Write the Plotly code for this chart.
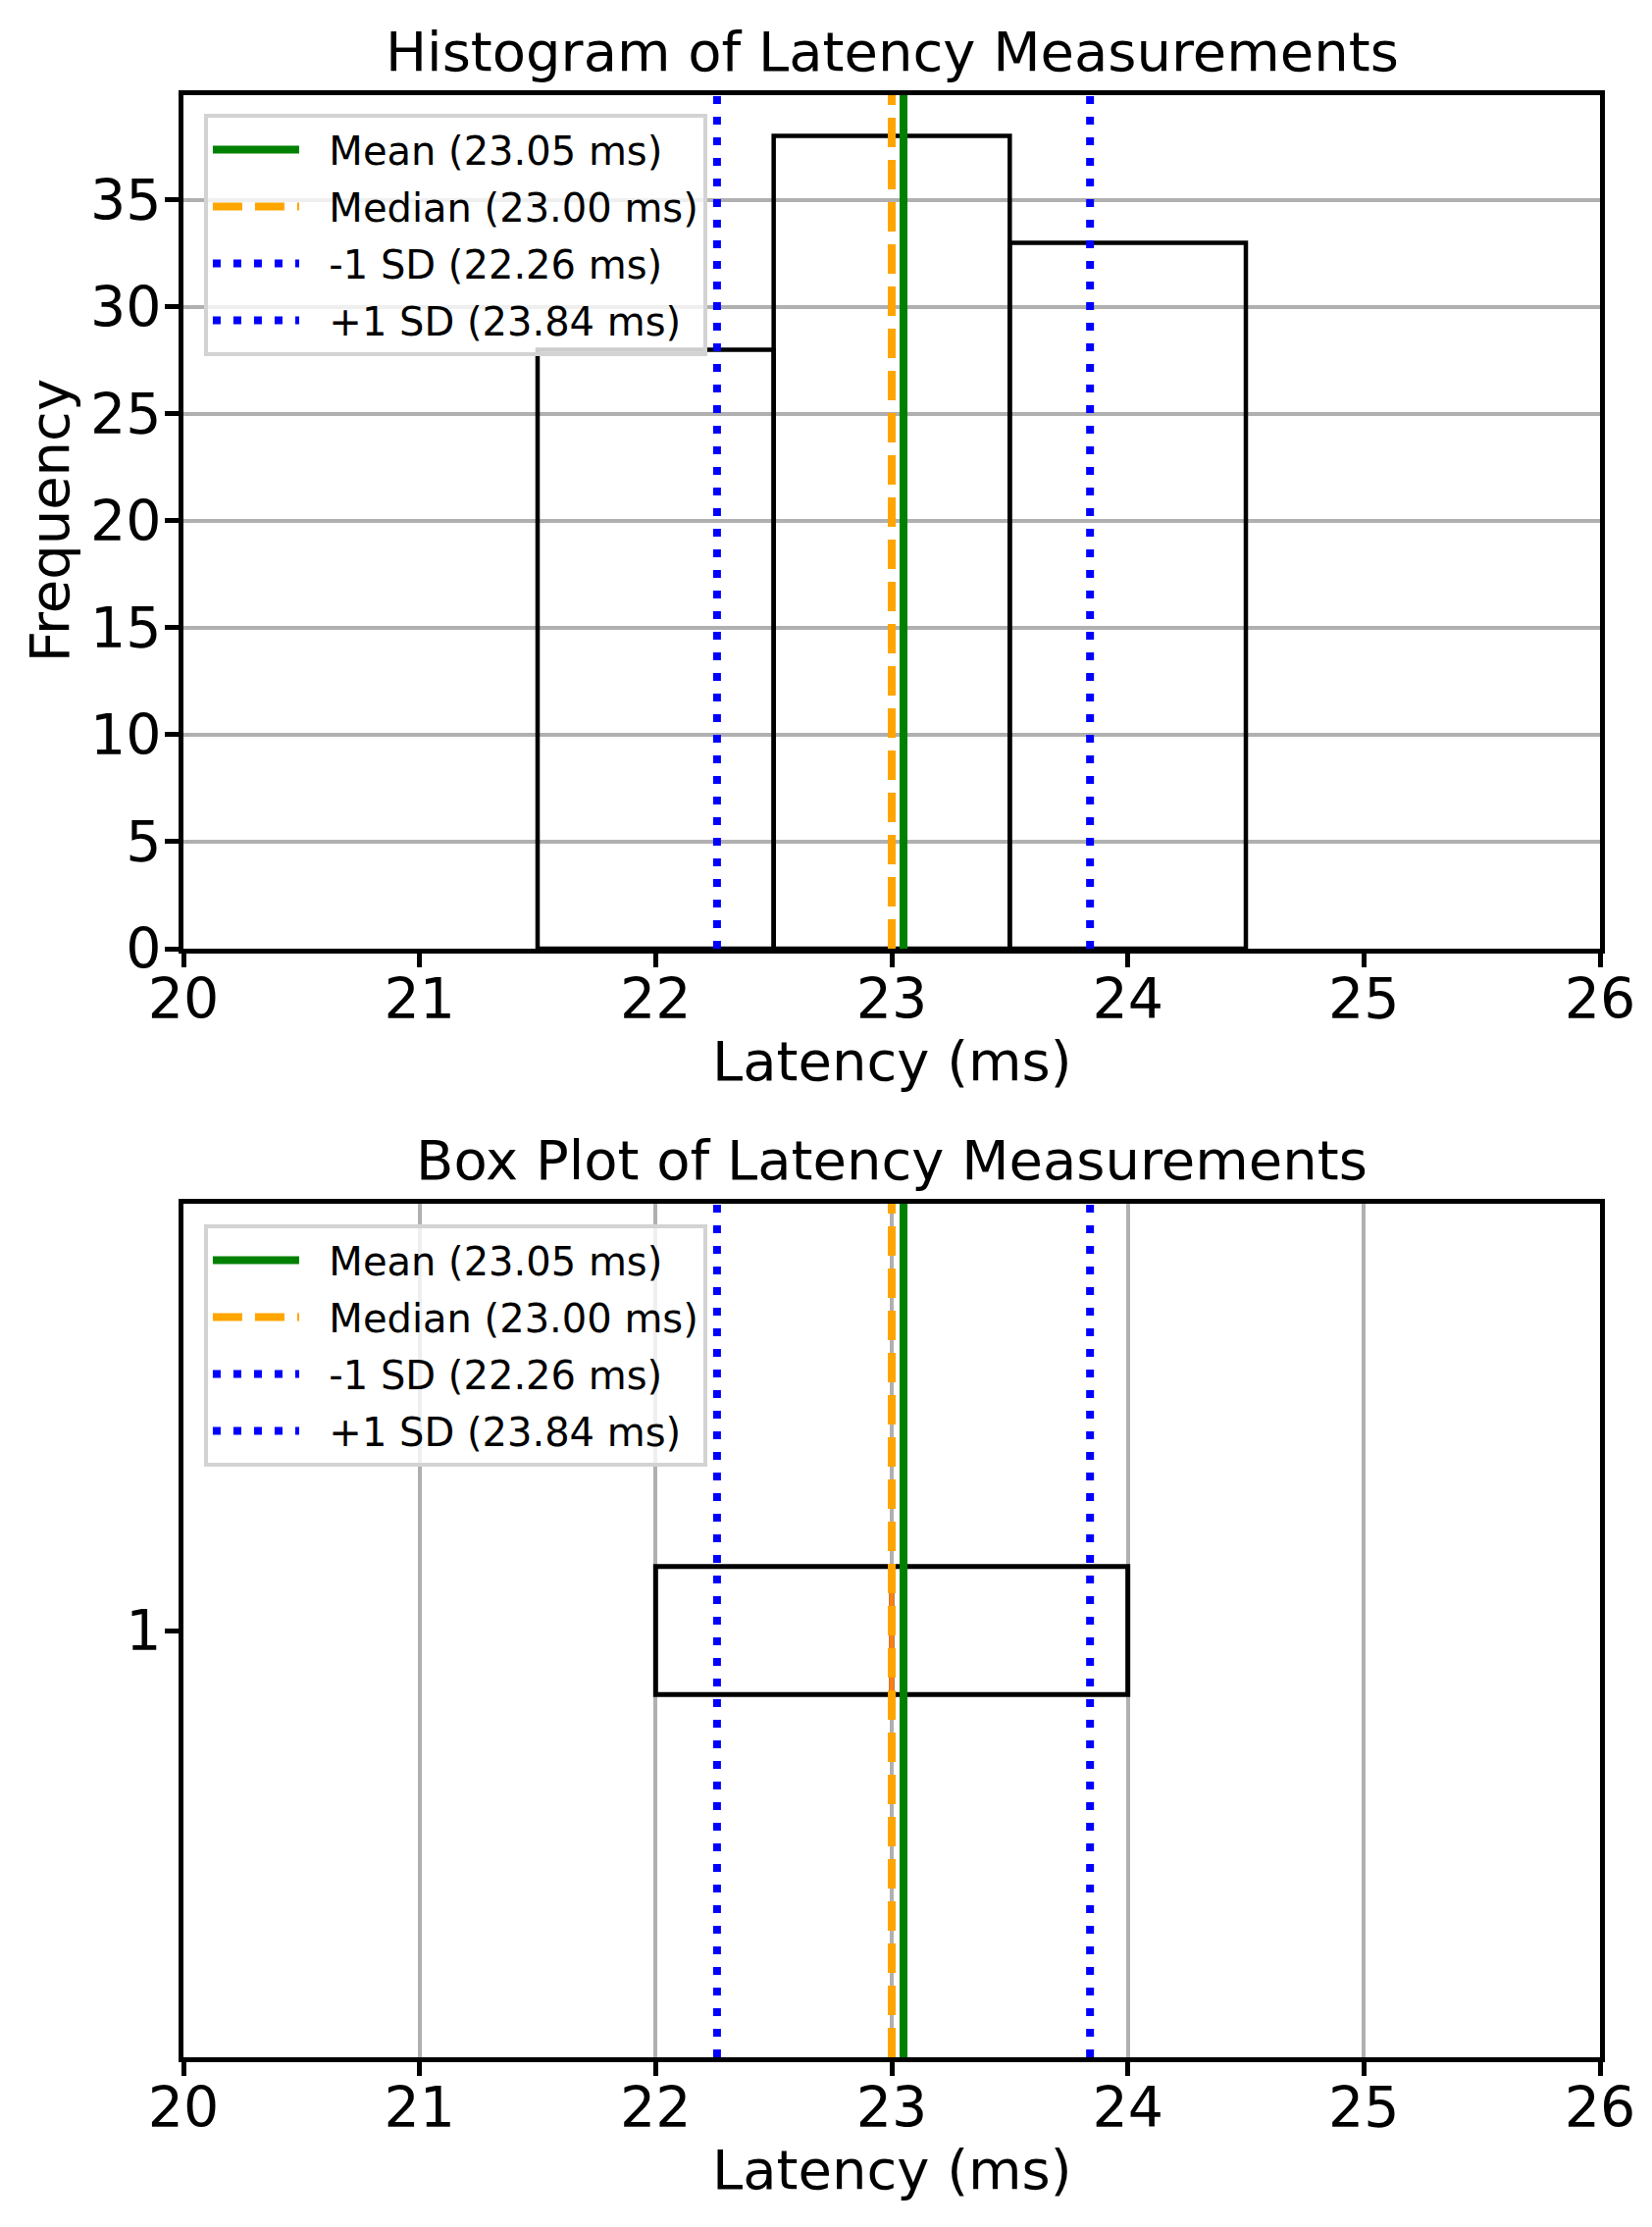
import plotly.graph_objects as go

# --- Data ---
latency_bins = [22, 23, 24]          # bin centres (ms), bins are 1 ms wide
bin_counts = [28, 38, 33]

mean_ms = 23.05
median_ms = 23.00
sd_low_ms = 22.26
sd_high_ms = 23.84

# box plot summary (horizontal box at position 1)
box_q1 = 22
box_median = 23
box_q3 = 24
box_low = 22
box_high = 24
box_pos = 1
box_width = 0.15

x_ticks = [20, 21, 22, 23, 24, 25, 26]
hist_y_ticks = [0, 5, 10, 15, 20, 25, 30, 35]

hist_y_range = [0, max(bin_counts) * 1.05]
box_y_range = [box_pos - 0.5, box_pos + 0.5]

FONT = "DejaVu Sans"
GRID = "#b0b0b0"
PAD = "\u00a0\u00a0"  # small gap between legend sample and text

# reference lines: (label, value, colour, dash)
ref_lines = [
    (f"Mean ({mean_ms:.2f} ms)", mean_ms, "green", "solid"),
    (f"Median ({median_ms:.2f} ms)", median_ms, "orange", "30px,13px"),
    (f"-1 SD ({sd_low_ms:.2f} ms)", sd_low_ms, "blue", "8px,13px"),
    (f"+1 SD ({sd_high_ms:.2f} ms)", sd_high_ms, "blue", "8px,13px"),
]

fig = go.Figure()

# --- Histogram (top) ---
fig.add_trace(go.Bar(
    x=latency_bins, y=bin_counts, width=1,
    marker=dict(color="rgba(0,0,0,0)", line=dict(color="black", width=4.5)),
    showlegend=False, xaxis="x", yaxis="y",
))

for i, (label, val, col, dash) in enumerate(ref_lines):
    fig.add_trace(go.Scatter(
        x=[val, val], y=hist_y_range, mode="lines", name=PAD + label,
        line=dict(color=col, width=8, dash=dash),
        xaxis="x", yaxis="y", legend="legend", legendgroup=f"h{i}",
    ))

# --- Box plot (bottom) ---
fig.add_trace(go.Box(
    y=[box_pos], q1=[box_q1], median=[box_median], q3=[box_q3],
    lowerfence=[box_low], upperfence=[box_high],
    orientation="h", width=box_width, boxpoints=False,
    fillcolor="rgba(0,0,0,0)", line=dict(color="black", width=5),
    showlegend=False, xaxis="x2", yaxis="y2",
))
# matplotlib-style orange median bar inside the box
fig.add_trace(go.Scatter(
    x=[box_median, box_median],
    y=[box_pos - box_width / 2, box_pos + box_width / 2],
    mode="lines", line=dict(color="#ff7f0e", width=5),
    showlegend=False, xaxis="x2", yaxis="y2",
))

for i, (label, val, col, dash) in enumerate(ref_lines):
    fig.add_trace(go.Scatter(
        x=[val, val], y=box_y_range, mode="lines", name=PAD + label,
        line=dict(color=col, width=8, dash=dash),
        xaxis="x2", yaxis="y2", legend="legend2", legendgroup=f"b{i}",
    ))

axis_common = dict(
    showline=True, linecolor="black", linewidth=5, mirror=True,
    ticks="outside", ticklen=14, tickwidth=4.5, tickcolor="black",
    tickfont=dict(family=FONT, size=57, color="black"),
    zeroline=False, gridcolor=GRID, gridwidth=3.5,
)
x_common = dict(axis_common, ticklabelstandoff=-16)
y_common = dict(axis_common, ticklabelstandoff=-8)

legend_common = dict(
    x=0.0145, xanchor="left", yanchor="top",
    bgcolor="rgba(255,255,255,0.8)", bordercolor="#d3d3d3", borderwidth=4,
    font=dict(family=FONT, size=40, color="black"),
    traceorder="grouped", tracegroupgap=3, itemwidth=88,
)

fig.update_layout(
    width=1684, height=2270,
    paper_bgcolor="white", plot_bgcolor="white",
    margin=dict(l=179, r=61, t=89, b=181, autoexpand=False),
    font=dict(family=FONT, color="black"),
    xaxis=dict(x_common, range=[20, 26], tickvals=x_ticks, showgrid=False,
               anchor="y", domain=[0, 1]),
    yaxis=dict(y_common, range=hist_y_range, tickvals=hist_y_ticks,
               showgrid=True, anchor="x", domain=[0.565, 1]),
    xaxis2=dict(x_common, range=[20, 26], tickvals=x_ticks, showgrid=True,
                anchor="y2", domain=[0, 1]),
    yaxis2=dict(y_common, range=box_y_range, tickvals=[box_pos],
                showgrid=False, anchor="x2", domain=[0, 0.435]),
    legend=dict(legend_common, y=0.9905),
    legend2=dict(legend_common, y=0.4245),
    annotations=[
        dict(text="Histogram of Latency Measurements", x=0.5, y=1.0225,
             xref="paper", yref="paper", showarrow=False, yanchor="middle",
             font=dict(size=56)),
        dict(text="Box Plot of Latency Measurements", x=0.5, y=0.4575,
             xref="paper", yref="paper", showarrow=False, yanchor="middle",
             font=dict(size=56)),
        dict(text="Latency (ms)", x=0.5, y=0.50775, xref="paper", yref="paper",
             showarrow=False, yanchor="middle", font=dict(size=56)),
        dict(text="Latency (ms)", x=0.5, y=-0.05725, xref="paper", yref="paper",
             showarrow=False, yanchor="middle", font=dict(size=56)),
        dict(text="Frequency", x=-0.0947, y=0.783, xref="paper", yref="paper",
             showarrow=False, textangle=-90, xanchor="center", yanchor="middle",
             font=dict(size=56)),
    ],
)

fig.write_html("out.html")
